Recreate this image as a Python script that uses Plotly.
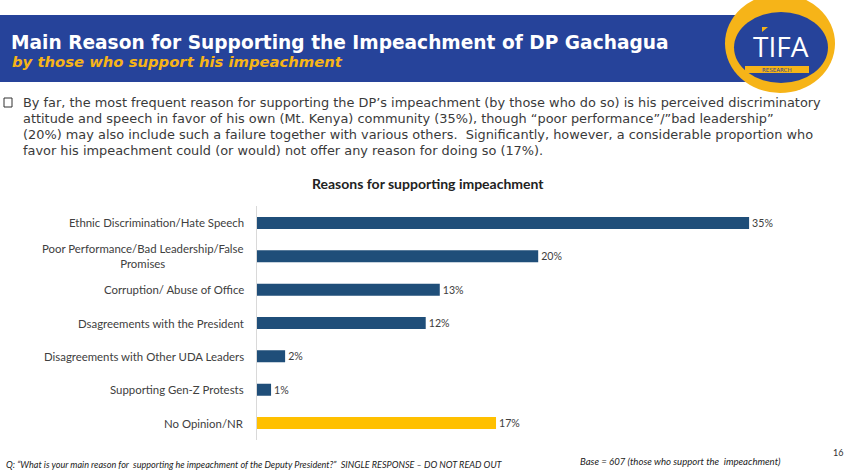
import plotly.graph_objects as go

W, H = 850, 474

categories = [
    "Ethnic Discrimination/Hate Speech",
    "Poor Performance/Bad Leadership/False<br>Promises",
    "Corruption/ Abuse of Office",
    "Dsagreements with the President",
    "Disagreements with Other UDA Leaders",
    "Supporting Gen-Z Protests",
    "No Opinion/NR",
]
values = [35, 20, 13, 12, 2, 1, 17]
bar_colors = ["#1F4E79"] * 6 + ["#FFC000"]

title = "Main Reason for Supporting the Impeachment of DP Gachagua"
subtitle = "by those who support his impeachment"
paragraph_lines = [
    "By far, the most frequent reason for supporting the DP\u2019s impeachment (by those who do so) is his perceived discriminatory",
    "attitude and speech in favor of his own (Mt. Kenya) community (35%), though \u201cpoor performance\u201d/\u201dbad leadership\u201d",
    "(20%) may also include such a failure together with various others.  Significantly, however, a considerable proportion who",
    "favor his impeachment could (or would) not offer any reason for doing so (17%).",
]
chart_title = "Reasons for supporting impeachment"
question = "Q: \u201cWhat is your main reason for  supporting he impeachment of the Deputy President?\u201d  SINGLE RESPONSE \u2013 DO NOT READ OUT"
base_note = "Base = 607 (those who support the  impeachment)"
page_no = "16"


def px(x):
    return x / W


def py(y):
    return 1 - y / H


fig = go.Figure()
fig.add_trace(go.Bar(
    x=values,
    y=categories,
    orientation="h",
    marker=dict(color=bar_colors, line=dict(width=0)),
    width=0.36,
    text=[f"{v}%" for v in values],
    textposition="outside",
    textfont=dict(family="Lato", size=11.5, color="#404040"),
    cliponaxis=False,
    hoverinfo="skip",
))

x0_px, x1_px = 257, 257 + 14.06 * 40
fig.update_layout(
    width=W, height=H,
    margin=dict(l=0, r=0, t=0, b=0),
    paper_bgcolor="white", plot_bgcolor="white",
    showlegend=False,
    xaxis=dict(range=[0, 40], domain=[px(x0_px), px(x1_px)], visible=False),
    yaxis=dict(
        type="category", categoryarray=categories,
        range=[6.5, -0.5],
        domain=[py(439.7), py(206.3)],
        showticklabels=False, showgrid=False, zeroline=False,
        showline=True, linecolor="#D9D9D9", linewidth=1, ticks="",
    ),
)

shapes = []
# header band
shapes.append(dict(type="rect", xref="paper", yref="paper",
                   x0=px(0), x1=px(800), y0=py(82), y1=py(15),
                   fillcolor="#26439A", line=dict(width=0), layer="below"))
# logo
shapes.append(dict(type="circle", xref="paper", yref="paper",
                   x0=px(725), x1=px(835), y0=py(93), y1=py(-6),
                   fillcolor="#F6B418", line=dict(width=0)))
shapes.append(dict(type="circle", xref="paper", yref="paper",
                   x0=px(734), x1=px(828), y0=py(83), y1=py(12),
                   fillcolor="#26439A", line=dict(width=0)))
shapes.append(dict(type="rect", xref="paper", yref="paper",
                   x0=px(745), x1=px(809), y0=py(73), y1=py(66),
                   fillcolor="#F6B418", line=dict(width=0)))
shapes.append(dict(type="path", xref="paper", yref="paper",
                   path=f"M {px(762)} {py(27)} L {px(768)} {py(27)} L {px(762)} {py(32)} Z",
                   fillcolor="#F6B418", line=dict(width=0)))
# bullet box
shapes.append(dict(type="rect", xref="paper", yref="paper",
                   x0=px(4), x1=px(12), y0=py(107), y1=py(98),
                   fillcolor="white", line=dict(color="#333333", width=1)))

ann = []
ann.append(dict(text=f"<b>{title}</b>", x=px(9), y=py(42), xref="paper", yref="paper",
                xanchor="left", yanchor="middle", showarrow=False,
                font=dict(family="DejaVu Sans", size=18.6, color="white")))
ann.append(dict(text=f"<b><i>{subtitle}</i></b>", x=px(10), y=py(62), xref="paper", yref="paper",
                xanchor="left", yanchor="middle", showarrow=False,
                font=dict(family="DejaVu Sans", size=14.8, color="#F6B418")))
ann.append(dict(text="TIFA", x=px(781), y=py(46), xref="paper", yref="paper",
                xanchor="center", yanchor="middle", showarrow=False,
                font=dict(family="Open Sans", size=28, color="white")))
ann.append(dict(text="RESEARCH", x=px(777), y=py(69.5), xref="paper", yref="paper",
                xanchor="center", yanchor="middle", showarrow=False,
                font=dict(family="DejaVu Sans", size=5.5, color="#26439A")))
for i, line in enumerate(paragraph_lines):
    ann.append(dict(text=line, x=px(21), y=py(102 + 16 * i), xref="paper", yref="paper",
                    xanchor="left", yanchor="middle", showarrow=False,
                    font=dict(family="DejaVu Sans", size=12.9, color="#3A3A3A")))
ann.append(dict(text=f"<b>{chart_title}</b>", x=px(428), y=py(184), xref="paper", yref="paper",
                xanchor="center", yanchor="middle", showarrow=False,
                font=dict(family="Lato", size=14, color="#222222")))
for c in categories:
    ann.append(dict(text=c, x=px(246), y=c, xref="paper", yref="y",
                    xanchor="right", yanchor="middle", align="center", showarrow=False,
                    font=dict(family="Lato", size=11.4, color="#404040")))
ann.append(dict(text=f"<i>{question}</i>", x=px(4), y=py(464), xref="paper", yref="paper",
                xanchor="left", yanchor="middle", showarrow=False,
                font=dict(family="Lato", size=9.1, color="#222222")))
ann.append(dict(text=f"<i>{base_note}</i>", x=px(578), y=py(461), xref="paper", yref="paper",
                xanchor="left", yanchor="middle", showarrow=False,
                font=dict(family="Lato", size=9.6, color="#222222")))
ann.append(dict(text=page_no, x=px(845), y=py(452), xref="paper", yref="paper",
                xanchor="right", yanchor="middle", showarrow=False,
                font=dict(family="Lato", size=9, color="#333333")))

fig.update_layout(shapes=shapes, annotations=ann)
fig.write_html("out.html", config={"displayModeBar": False},
               post_script="document.body.style.margin='0';document.body.style.overflow='hidden';")
